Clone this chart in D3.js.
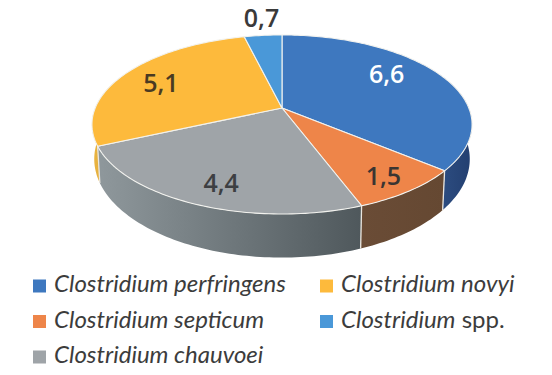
<!DOCTYPE html>
<html><head><meta charset="utf-8">
<script src="https://cdn.jsdelivr.net/npm/d3@7"></script>
<style>html,body{margin:0;padding:0;background:#fff}svg{display:block}</style>
</head><body><svg id="c" width="552" height="375"></svg>
<script>
const species = ["Clostridium perfringens","Clostridium septicum","Clostridium chauvoei","Clostridium novyi","Clostridium spp."];
const values = [6.6,1.5,4.4,5.1,0.7];
const valueLabels = ["6,6","1,5","4,4","5,1","0,7"];
const topColors = ["#3e78bf","#ee8549","#9fa4a8","#fdba3c","#4a98d8"];
const wallDark = ["#233f70","#654832","#4f585c","#d9a63c","#2a5f90"];
const wallLight = ["#2c4c80","#6a4c36","#8f989c","#eab440","#2a5f90"];
const labelColors = ["#ffffff","#3a3532","#3d3f42","#4a3a22","#3a3a3a"];

const svg = d3.select("#c");
const cx=282, cy=108, Rx=186.8, Ry=86.5, p=0.184;
const xS = d3.scaleLinear().domain([-1,1]).range([cx-Rx,cx+Rx]);
const yS = d3.scaleLinear().domain([-1,1]).range([cy+Ry,cy-Ry]);
function project(a,r=1){
  const X=r*Math.sin(a),Y=r*Math.cos(a),w=1+p*Y;
  return [xS(X/w),yS(Y/w)];
}
function lower(pt){ return [cx+(pt[0]-cx)*0.988, pt[1]+33+0.1*(pt[1]-cy)]; }
const pie=d3.pie().sort(null).value(d=>d);
const arcs=pie(values);
const line=d3.line();
function samples(a0,a1){
  const n=Math.max(2,Math.ceil((a1-a0)/0.02));
  return d3.range(n+1).map(i=>a0+(a1-a0)*i/n);
}
const defs=svg.append("defs");
// side walls
const lo=Math.PI*0.38, hi=Math.PI*1.62;
arcs.forEach((d,i)=>{
  const a0=Math.max(d.startAngle,lo),a1=Math.min(d.endAngle,hi);
  if(a1<=a0) return;
  const rim=samples(a0,a1).map(a=>project(a));
  const poly=rim.concat(rim.map(lower).reverse());
  const ext=d3.extent(poly,q=>q[0]);
  const g=defs.append("linearGradient").attr("id","w"+i).attr("gradientUnits","userSpaceOnUse")
    .attr("x1",ext[0]).attr("x2",ext[1]).attr("y1",0).attr("y2",0);
  g.append("stop").attr("offset",0).attr("stop-color",wallLight[i]);
  g.append("stop").attr("offset",1).attr("stop-color",wallDark[i]);
  svg.append("path").attr("d",line(poly)+"Z").attr("fill",`url(#w${i})`);
});
// wall seams
arcs.forEach(d=>{
  if(d.startAngle>lo&&d.startAngle<hi){
    const t=project(d.startAngle);
    svg.append("path").attr("d",line([t,lower(t)])).attr("stroke","#e9e6e0").attr("stroke-width",1.3).attr("fill","none");
  }
});
// top faces
arcs.forEach((d,i)=>{
  const pts=[[cx,cy]].concat(samples(d.startAngle,d.endAngle).map(a=>project(a)));
  svg.append("path").attr("d",line(pts)+"Z").attr("fill",topColors[i])
    .attr("stroke","#f2f2ee").attr("stroke-width",1.1).attr("stroke-linejoin","round");
});
// value labels
const labelR=[0.65,0.72,0.62,0.68,1.1];
const labelNudge=[[0,-12],[14,10],[-11,19],[-13,-2],[0,-12]];
const font="'Open Sans',sans-serif";
arcs.forEach((d,i)=>{
  const q=project((d.startAngle+d.endAngle)/2,labelR[i]);
  svg.append("text").attr("x",q[0]+labelNudge[i][0]).attr("y",q[1]+labelNudge[i][1])
    .attr("text-anchor","middle").attr("dominant-baseline","central")
    .attr("font-family",font).attr("font-size",25).attr("font-weight",600)
    .attr("fill",labelColors[i]).text(valueLabels[i]);
});
// legend
const legendOrder=[0,3,1,4,2];
const colX=d3.scaleOrdinal().domain([0,1]).range([33,320]);
const rowY=d3.scalePoint().domain([0,1,2]).range([292,363]);
legendOrder.forEach((s,k)=>{
  const col=k%2,row=Math.floor(k/2),x=colX(col),y=rowY(row);
  svg.append("rect").attr("x",x).attr("y",y-12.5).attr("width",13).attr("height",13).attr("fill",topColors[s]);
  const t=svg.append("text").attr("x",x+21).attr("y",y).attr("font-family","Lato,sans-serif").attr("font-size",24).attr("fill","#3c3c3c");
  const parts=species[s].split(" ");
  if(parts[1]==="spp."){
    t.append("tspan").attr("font-style","italic").text(parts[0]);
    t.append("tspan").text(" "+parts[1]);
  } else t.attr("font-style","italic").text(species[s]);
});
</script></body></html>
